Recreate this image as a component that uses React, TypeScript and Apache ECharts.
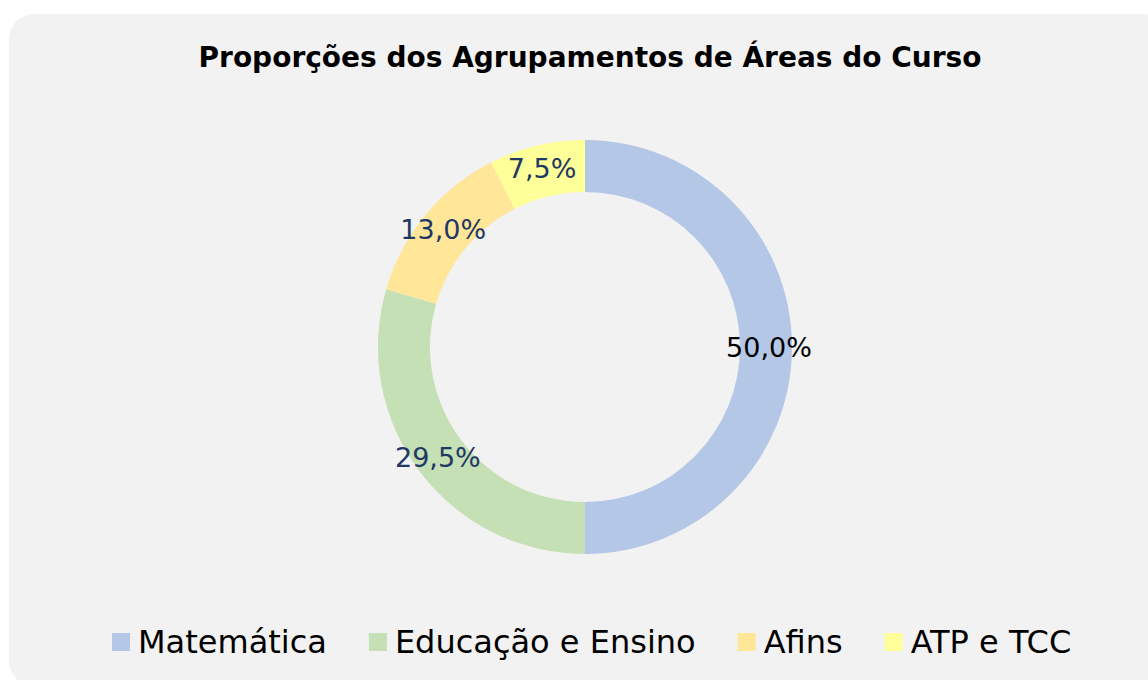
import React, { useEffect, useRef } from "react";
import * as echarts from "echarts";

const categories = ["Matemática", "Educação e Ensino", "Afins", "ATP e TCC"];
const values = [50.0, 29.5, 13.0, 7.5];
const colors = ["#b4c7e7", "#c5e0b4", "#ffe699", "#ffff99"];
const labelColors = ["#000000", "#1f3864", "#1f3864", "#1f3864"];
const title = "Proporções dos Agrupamentos de Áreas do Curso";

export default function App() {
  const ref = useRef<HTMLDivElement>(null);
  useEffect(() => {
    const chart = echarts.init(ref.current!, null, { renderer: "svg" });
    const font = "'DejaVu Sans', sans-serif";
    chart.setOption({
      animation: false,
      backgroundColor: "#ffffff",
      graphic: [
        {
          type: "rect",
          z: -10,
          silent: true,
          shape: { x: 9, y: 14, width: 1160, height: 672, r: 25 },
          style: { fill: "#f2f2f2" },
        },
      ],
      title: {
        text: title,
        left: 585,
        textAlign: "center",
        top: 38,
        textStyle: { fontFamily: font, fontWeight: "bold", fontSize: 28, color: "#000" },
      },
      legend: {
        bottom: 17,
        left: 107,
        itemWidth: 18,
        itemHeight: 18,
        itemGap: 42,
        icon: "rect",
        textStyle: { fontFamily: font, fontSize: 32, color: "#000", padding: [0, 0, 0, 3] },
        data: categories,
      },
      series: [
        {
          type: "pie",
          center: [585, 347],
          radius: [155, 207],
          startAngle: 90,
          clockwise: true,
          avoidLabelOverlap: false,
          label: {
            show: true,
            position: "inside",
            fontFamily: font,
            fontSize: 27,
            formatter: (p: any) => p.value.toFixed(1).replace(".", ",") + "%",
          },
          labelLine: { show: false },
          itemStyle: { borderWidth: 0 },
          emphasis: { disabled: true },
          data: categories.map((c, i) => ({
            name: c,
            value: values[i],
            itemStyle: { color: colors[i] },
            label: { color: labelColors[i] },
          })),
        },
      ],
    });
    return () => chart.dispose();
  }, []);
  return (
    <div
      ref={ref}
      style={{ position: "absolute", left: 0, top: 0, width: 1148, height: 680 }}
    />
  );
}
